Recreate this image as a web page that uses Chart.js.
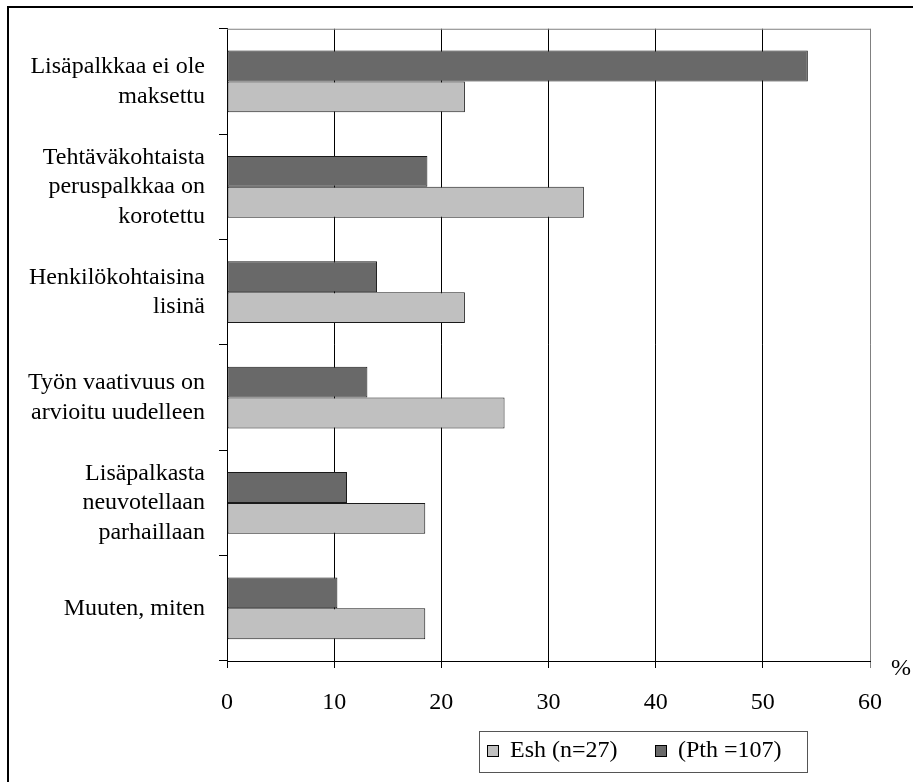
<!DOCTYPE html>
<html>
<head>
<meta charset="utf-8">
<script src="https://cdn.jsdelivr.net/npm/chart.js@4"></script>
<style>
  html, body { margin: 0; padding: 0; background: #fff; }
  #wrap { width: 913px; height: 782px; }
</style>
</head>
<body>
<div id="wrap"><canvas id="payChart" width="913" height="782"></canvas></div>
<script>
// --- data ---
const categories = [
  ['Lisäpalkkaa ei ole', 'maksettu'],
  ['Tehtäväkohtaista', 'peruspalkkaa on', 'korotettu'],
  ['Henkilökohtaisina', 'lisinä'],
  ['Työn vaativuus on', 'arvioitu uudelleen'],
  ['Lisäpalkasta', 'neuvotellaan', 'parhaillaan'],
  ['Muuten, miten']
];
const pthValues = [54.2, 18.7, 14.0, 13.1, 11.2, 10.3]; // (Pth =107)
const eshValues = [22.2, 33.3, 22.2, 25.9, 18.5, 18.5]; // Esh (n=27)
const xMin = 0, xMax = 60, xStep = 10;
const unitLabel = '%';

const FONT = "'Liberation Serif', 'DejaVu Serif', serif";

// frame, plot border, % sign and the boxed legend
const extras = {
  id: 'extras',
  afterDraw(chart) {
    const c = chart.ctx, a = chart.chartArea;
    c.save();
    // outer frame (top + left only)
    c.strokeStyle = '#000';
    c.lineWidth = 2;
    c.beginPath();
    c.moveTo(8, 782); c.lineTo(8, 7); c.lineTo(913, 7);
    c.stroke();
    // plot top border
    c.strokeStyle = '#808080';
    c.lineWidth = 1;
    c.beginPath();
    c.moveTo(a.left, a.top + 0.5); c.lineTo(a.right + 0.5, a.top + 0.5);
    c.stroke();
    // % sign
    c.fillStyle = '#000';
    c.font = '24px ' + FONT;
    c.textAlign = 'left';
    c.textBaseline = 'middle';
    c.fillText(unitLabel, 891, a.bottom + 8);
    // legend (Esh first)
    const boxX = 479.5, boxY = 731.5, boxW = 328, boxH = 41;
    c.strokeStyle = '#555';
    c.strokeRect(boxX, boxY, boxW, boxH);
    const items = chart.data.datasets.slice().reverse();
    const xs = [487, 655];
    items.forEach((ds, i) => {
      c.fillStyle = ds.backgroundColor;
      c.fillRect(xs[i], 745, 11, 11);
      c.strokeStyle = '#000';
      c.strokeRect(xs[i] + 0.5, 745.5, 11, 11);
      c.fillStyle = '#000';
      c.fillText(ds.label, xs[i] + 23, 751);
    });
    c.restore();
  }
};

new Chart(document.getElementById('payChart'), {
  type: 'bar',
  data: {
    labels: categories,
    datasets: [
      {
        label: '(Pth =107)',
        data: pthValues,
        backgroundColor: '#696969',
        borderColor: '#1a1a1a',
        borderWidth: 1,
        borderSkipped: false
      },
      {
        label: 'Esh (n=27)',
        data: eshValues,
        backgroundColor: '#c0c0c0',
        borderColor: '#1a1a1a',
        borderWidth: 1,
        borderSkipped: false
      }
    ]
  },
  options: {
    indexAxis: 'y',
    responsive: false,
    animation: false,
    categoryPercentage: 0.585,
    barPercentage: 1.0,
    layout: { padding: { top: 24, left: 10, right: 43, bottom: 61 } },
    plugins: {
      legend: { display: false },
      tooltip: { enabled: false }
    },
    scales: {
      x: {
        min: xMin,
        max: xMax,
        ticks: {
          stepSize: xStep,
          color: '#000',
          padding: 20,
          font: { family: FONT, size: 24 }
        },
        grid: {
          color: ctx => (ctx.tick && ctx.tick.value === xMax) ? '#808080' : '#000',
          tickLength: 7,
          lineWidth: 1
        },
        border: { color: '#000', width: 1 },
        afterFit: s => { s.height = 60; }
      },
      y: {
        ticks: {
          color: '#000',
          padding: 14,
          font: { family: FONT, size: 24, lineHeight: 1.23 }
        },
        grid: {
          drawOnChartArea: false,
          color: '#000',
          tickLength: 8
        },
        border: { color: '#000', width: 1 },
        afterFit: s => { s.width = 217; }
      }
    }
  },
  plugins: [extras]
});
</script>
</body>
</html>
